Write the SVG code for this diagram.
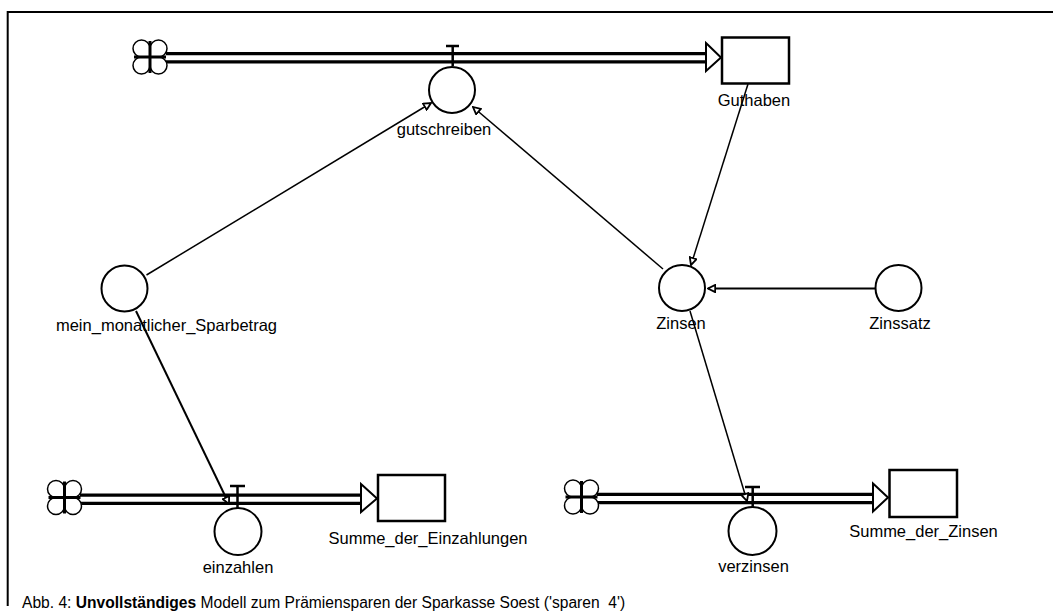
<svg xmlns="http://www.w3.org/2000/svg" width="1053" height="616" viewBox="0 0 1053 616">
<defs>
<style>
.lbl{font-family:"Liberation Sans",Arial,sans-serif;font-size:16.5px;fill:#000;text-anchor:middle}
.aux{fill:#fff;stroke:#000;stroke-width:2}
.stock{fill:#fff;stroke:#000;stroke-width:2.5}
.pipeo{stroke:#000;stroke-width:11.5;fill:none}
.pipei{stroke:#fff;stroke-width:5;fill:none}
.valve{stroke:#000;stroke-width:2.5;fill:none}
.link{stroke:#000;stroke-width:1.5;fill:none;marker-end:url(#ah)}
.flowhead{fill:#fff;stroke:#000;stroke-width:2}
.cap{font-family:"Liberation Sans",Arial,sans-serif;font-size:15.6px;fill:#000;white-space:pre}
</style>
<marker id="ah" viewBox="0 0 10 10" refX="9" refY="5" markerWidth="9" markerHeight="9" orient="auto" markerUnits="userSpaceOnUse">
<path d="M1,1 L9,5 L1,9 Z" fill="#fff" stroke="#000" stroke-width="2"/>
</marker>
<g id="cloudsym">
<circle cx="-8.5" cy="-8.5" r="8.5" fill="#fff" stroke="#000" stroke-width="1.5"/>
<circle cx="8.5" cy="-8.5" r="8.5" fill="#fff" stroke="#000" stroke-width="1.5"/>
<circle cx="-8.5" cy="8.5" r="8.5" fill="#fff" stroke="#000" stroke-width="1.5"/>
<circle cx="8.5" cy="8.5" r="8.5" fill="#fff" stroke="#000" stroke-width="1.5"/>
<rect x="-8.5" y="-8.5" width="17" height="17" fill="#fff"/>
<line x1="0" y1="-16" x2="0" y2="16" stroke="#000" stroke-width="3"/>
<line x1="-16" y1="0" x2="16" y2="0" stroke="#000" stroke-width="3"/>
</g>
</defs>
<rect width="1053" height="616" fill="#fff"/>
<path d="M7.7,606 L7.7,12 L1053,12" fill="none" stroke="#000" stroke-width="2"/>

<g id="flows">
<line class="pipeo" x1="166" y1="57.8" x2="707" y2="57.8"/>
<line class="pipei" x1="166" y1="57.8" x2="707" y2="57.8"/>
<path class="flowhead" d="M706,43 L721,57.5 L706,71 Z"/>
<line class="pipeo" x1="80" y1="499.2" x2="362" y2="499.2"/>
<line class="pipei" x1="80" y1="499.2" x2="362" y2="499.2"/>
<path class="flowhead" d="M361,484 L377,498.5 L361,512 Z"/>
<line class="pipeo" x1="597" y1="498.5" x2="874" y2="498.5"/>
<line class="pipei" x1="597" y1="498.5" x2="874" y2="498.5"/>
<path class="flowhead" d="M873,483.5 L888,497.5 L873,511.5 Z"/>
</g>

<g id="connectors">
<line class="link" x1="146.5" y1="275" x2="431" y2="103"/>
<line class="link" x1="663" y1="269" x2="473" y2="107"/>
<line class="link" x1="748" y1="84" x2="691" y2="265"/>
<line class="link" style="stroke-width:2" x1="875" y1="288.5" x2="708" y2="288.5"/>
<line class="link" style="stroke-width:2" x1="136" y1="311" x2="229" y2="504"/>
<line class="link" x1="690" y1="311" x2="747" y2="501"/>
</g>

<g id="cloud1"><use href="#cloudsym" x="150" y="57"/></g>
<g id="cloud2"><use href="#cloudsym" x="64.5" y="497.5"/></g>
<g id="cloud3"><use href="#cloudsym" x="581.5" y="497"/></g>

<g id="gutschreiben">
<path class="valve" d="M446,46 L459,46 M452.7,46 L452.7,66"/>
<circle class="aux" cx="452" cy="90" r="23"/>
<text class="lbl" x="444" y="135">gutschreiben</text>
</g>
<g id="Guthaben">
<rect class="stock" x="722" y="37.5" width="67" height="46"/>
<text class="lbl" x="754" y="106">Guthaben</text>
</g>
<g id="mein_monatlicher_Sparbetrag">
<circle class="aux" cx="124.5" cy="288.5" r="23"/>
<text class="lbl" style="text-anchor:end" x="277" y="331">mein_monatlicher_Sparbetrag</text>
</g>
<g id="Zinsen">
<circle class="aux" cx="682" cy="288" r="23"/>
<text class="lbl" x="681" y="329">Zinsen</text>
</g>
<g id="Zinssatz">
<circle class="aux" cx="898.5" cy="288" r="23"/>
<text class="lbl" x="900" y="329">Zinssatz</text>
</g>
<g id="einzahlen">
<path class="valve" d="M230,486 L245,486 M237.5,486 L237.5,508"/>
<circle class="aux" cx="238" cy="531.5" r="23.5"/>
<text class="lbl" x="238" y="573">einzahlen</text>
</g>
<g id="Summe_der_Einzahlungen">
<rect class="stock" x="378" y="475" width="67" height="46"/>
<text class="lbl" x="428" y="544">Summe_der_Einzahlungen</text>
</g>
<g id="verzinsen">
<path class="valve" d="M745,487 L760,487 M752.7,487 L752.7,507"/>
<circle class="aux" cx="752.5" cy="531" r="24"/>
<text class="lbl" x="753.5" y="572">verzinsen</text>
</g>
<g id="Summe_der_Zinsen">
<rect class="stock" x="889.5" y="470" width="67.5" height="47"/>
<text class="lbl" x="923.5" y="537">Summe_der_Zinsen</text>
</g>

<text class="cap" x="22" y="608" xml:space="preserve">Abb. 4: <tspan font-weight="bold">Unvollständiges</tspan> Modell zum Prämiensparen der Sparkasse Soest ('sparen  4')</text>
</svg>
